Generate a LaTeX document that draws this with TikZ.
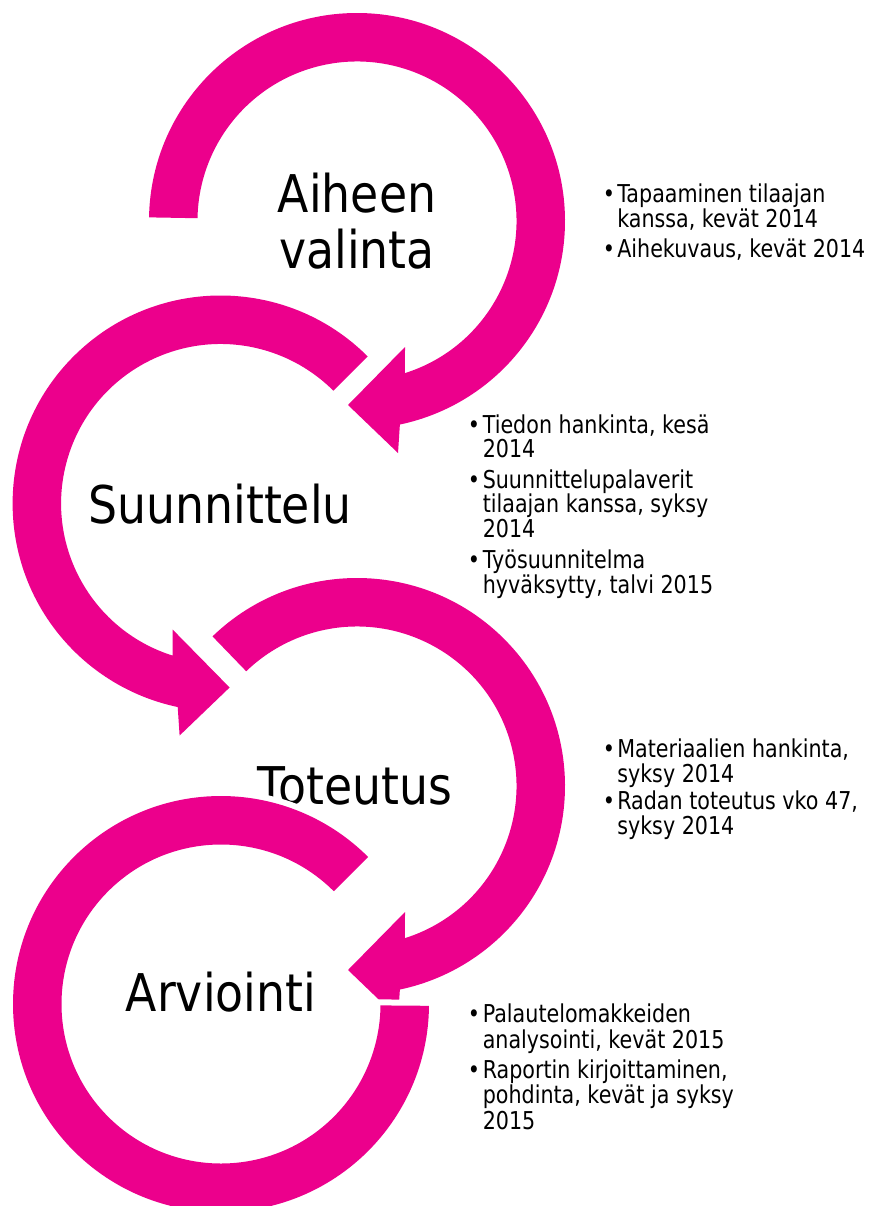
\documentclass[tikz,border=0pt]{standalone}
\usepackage{fontspec}
\setmainfont[FakeStretch=0.88]{DejaVu Sans}
\newfontfamily\smallfam[FakeStretch=0.84]{DejaVu Sans}
\definecolor{mag}{RGB}{236,0,140}
\begin{document}
\begin{tikzpicture}[x=0.75pt,y=-0.75pt,
  ring/.style={fill=mag,preaction={draw=white,line width=9pt}},
  big/.style={font=\fontsize{39}{42}\selectfont,inner sep=0pt,anchor=base},
  small/.style={font=\smallfam\fontsize{18.45}{20}\selectfont,inner sep=0pt,anchor=base west},
  bul/.style={font=\smallfam\fontsize{18.45}{20}\selectfont,inner sep=0pt,anchor=base}]
\useasboundingbox (0,0) rectangle (869,1206);
\clip (0,0) rectangle (869,1206);
% ring 1
\begin{scope}[shift={(357,221)}]
\fill[ring] (181:208) arc[start angle=181,end angle=438.1,radius=208]
  -- (41,232) -- (-9,184) -- (48,126) -- (432.5:159.5)
  arc[start angle=432.5,end angle=181,radius=159.5] -- cycle;
\end{scope}
\node[big] (t1a) at (357,212) {Aiheen};
\node[big] (t1b) at (357,268) {valinta};
% ring 2
\begin{scope}[shift={(220.6,503.5)}]
\fill[ring] (-45:208) arc[start angle=-45,end angle=-258.1,radius=208]
  -- (-41,232) -- (9,184) -- (-48,126) -- (-252.5:159.5)
  arc[start angle=-252.5,end angle=-45,radius=159.5] -- cycle;
\end{scope}
\node[big] (t2) at (220,523) {Suunnittelu};
% ring 3
\begin{scope}[shift={(357,786)}]
\fill[ring] (226:208) arc[start angle=226,end angle=438.1,radius=208]
  -- (41,232) -- (-9,184) -- (48,126) -- (432.5:159.5)
  arc[start angle=432.5,end angle=226,radius=159.5] -- cycle;
\end{scope}
\node[big] (t3) at (355,804) {Toteutus};
% ring 4
\begin{scope}[shift={(221,1004)}]
\fill[ring] (0.5:208) arc[start angle=0.5,end angle=315,radius=208]
  -- (315:159.5) arc[start angle=315,end angle=0.5,radius=159.5] -- cycle;
\end{scope}
\node[big] (t4) at (221,1011.5) {Arviointi};
% text group 1
\node[bul] (b11) at (609,202) {•};
\node[small] (l11) at (617,202) {Tapaaminen tilaajan};
\node[small] (l12) at (617,227.3) {kanssa, kevät 2014};
\node[bul] (b12) at (609,257.3) {•};
\node[small] (l13) at (617,257.3) {Aihekuvaus, kevät 2014};
% text group 2
\node[bul] (b21) at (474,433) {•};
\node[small] (l21) at (482.5,433) {Tiedon hankinta, kesä};
\node[small] (l22) at (482.5,457.5) {2014};
\node[bul] (b22) at (474,488) {•};
\node[small] (l23) at (482.5,488) {Suunnittelupalaverit};
\node[small] (l24) at (482.5,512.5) {tilaajan kanssa, syksy};
\node[small] (l25) at (482.5,537.5) {2014};
\node[bul] (b23) at (474,568.5) {•};
\node[small] (l26) at (482.5,568.5) {Työsuunnitelma};
\node[small] (l27) at (482.5,593) {hyväksytty, talvi 2015};
% text group 3
\node[bul] (b31) at (609,757) {•};
\node[small] (l31) at (617,757) {Materiaalien hankinta,};
\node[small] (l32) at (617,782) {syksy 2014};
\node[bul] (b32) at (609,809) {•};
\node[small] (l33) at (617,809) {Radan toteutus vko 47,};
\node[small] (l34) at (617,834) {syksy 2014};
% text group 4
\node[bul] (b41) at (474,1022) {•};
\node[small] (l41) at (482.5,1022) {Palautelomakkeiden};
\node[small] (l42) at (482.5,1048) {analysointi, kevät 2015};
\node[bul] (b42) at (474,1078) {•};
\node[small] (l43) at (482.5,1078) {Raportin kirjoittaminen,};
\node[small] (l44) at (482.5,1103.5) {pohdinta, kevät ja syksy};
\node[small] (l45) at (482.5,1129) {2015};
\end{tikzpicture}
\end{document}
